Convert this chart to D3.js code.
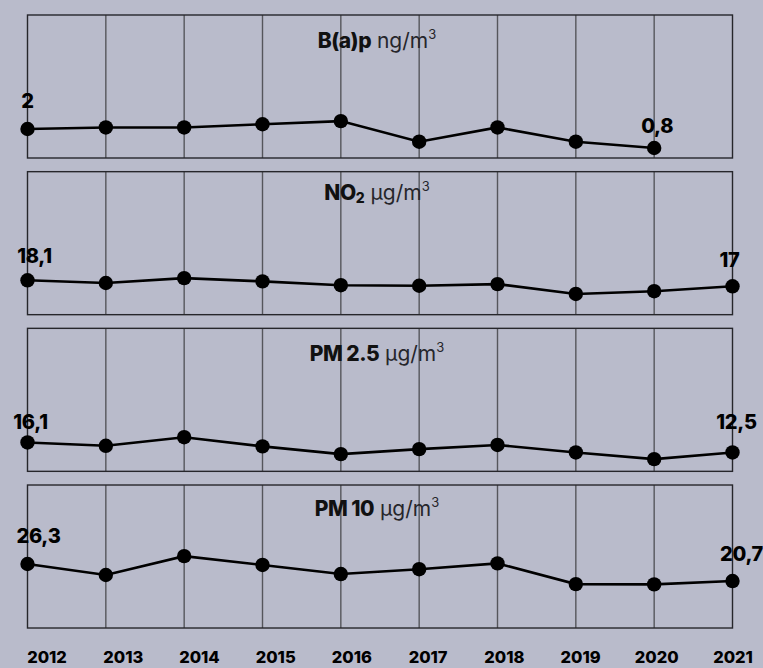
<!DOCTYPE html>
<html>
<head>
<meta charset="utf-8">
<script src="https://cdn.jsdelivr.net/npm/d3@7"></script>
<style>
  html, body { margin: 0; padding: 0; background: #b9bbcb; }
  svg { display: block; font-family: Inter, "DejaVu Sans", sans-serif; }
</style>
</head>
<body>
<div id="chart"></div>
<script>
"use strict";

/* global d3 */

// data
var years = [2012, 2013, 2014, 2015, 2016, 2017, 2018, 2019, 2020, 2021];
var yearLabels = ["2012", "2013", "2014", "2015", "2016", "2017", "2018", "2019", "2020", "2021"];

var panelNames = ["B(a)p", "NO", "PM 2.5", "PM 10"];
var panelSubs = ["", "2", "", ""];
var panelUnits = ["ng/m", "µg/m", "µg/m", "µg/m"];

var bapValues = [2.0, 2.1, 2.1, 2.3, 2.5, 1.2, 2.1, 1.2, 0.8, null];
var no2Values = [18.1, 17.6, 18.5, 17.9, 17.2, 17.1, 17.4, 15.6, 16.1, 17.0];
var pm25Values = [16.1, 14.9, 18.0, 14.7, 11.9, 13.7, 15.2, 12.5, 10.1, 12.5];
var pm10Values = [26.3, 22.7, 28.9, 26.0, 23.0, 24.6, 26.5, 19.7, 19.6, 20.7];

var series = [bapValues, no2Values, pm25Values, pm10Values];

// y domain of each panel (bottom, top)
var yDomains = [[0.17, 9.2], [11.8, 38], [5.7, 57.2], [5.25, 52.3]];

// which points carry a value label
var labelIndex = [[0, 8], [0, 9], [0, 9], [0, 9]];

// label placement (dx, dy from the dot)
var labelOffsets = [
  [[0, -21], [3, -15]],
  [[7, -17], [-3, -19]],
  [[3, -13], [4, -23]],
  [[11, -21], [9, -20]]
];

// title baseline below each panel top
var titleOffsets = [33, 28, 33, 31];

var width = 763;
var height = 668;
var left = 27.5;
var right = 732.5;
var firstTop = 15;
var panelStep = 156.67;
var panelHeight = 143;

var fmt = function (v) { return String(v).replace(".", ","); };

var svg = d3.select("#chart").append("svg")
  .attr("width", width)
  .attr("height", height);

var x = d3.scaleLinear().domain([years[0], years[years.length - 1]]).range([left, right]);
var xLabel = d3.scalePoint().domain(yearLabels).range([47, 733]);

series.forEach(function (values, i) {
  var top = firstTop + i * panelStep;
  var y = d3.scaleLinear().domain(yDomains[i]).range([top + panelHeight, top]);

  var g = svg.append("g");

  // vertical grid
  g.selectAll("line.grid")
    .data(years.slice(1, -1))
    .enter().append("line")
    .attr("class", "grid")
    .attr("x1", function (d) { return x(d); })
    .attr("x2", function (d) { return x(d); })
    .attr("y1", top)
    .attr("y2", top + panelHeight)
    .attr("stroke", "#55565c")
    .attr("stroke-width", 1.4);

  g.append("rect")
    .attr("x", left)
    .attr("y", top)
    .attr("width", right - left)
    .attr("height", panelHeight)
    .attr("fill", "none")
    .attr("stroke", "#26262b")
    .attr("stroke-width", 1.4);

  // title
  var title = g.append("text")
    .attr("x", 377)
    .attr("y", top + titleOffsets[i])
    .attr("text-anchor", "middle")
    .attr("font-size", 21)
    .attr("fill", "#111");
  title.append("tspan").attr("font-weight", 800).attr("letter-spacing", -0.5).text(panelNames[i]);
  if (panelSubs[i]) {
    title.append("tspan").attr("font-weight", 800).attr("font-size", 14).attr("dy", 3).text(panelSubs[i]);
    title.append("tspan").attr("dy", -3).text(" ");
  } else {
    title.append("tspan").text(" ");
  }
  title.append("tspan").attr("font-weight", 400).attr("fill", "#26262b").text(panelUnits[i]);
  title.append("tspan").attr("font-weight", 400).attr("fill", "#26262b").attr("font-size", 13).attr("dy", -9).text("3");

  var pts = values.map(function (v, j) { return { x: years[j], y: v }; })
    .filter(function (d) { return d.y !== null; });

  var line = d3.line()
    .x(function (d) { return x(d.x); })
    .y(function (d) { return y(d.y); });

  g.append("path")
    .datum(pts)
    .attr("d", line)
    .attr("fill", "none")
    .attr("stroke", "#000")
    .attr("stroke-width", 2.6);

  g.selectAll("circle")
    .data(pts)
    .enter().append("circle")
    .attr("cx", function (d) { return x(d.x); })
    .attr("cy", function (d) { return y(d.y); })
    .attr("r", 7.2)
    .attr("fill", "#000");

  labelIndex[i].forEach(function (j, k) {
    var off = labelOffsets[i][k];
    g.append("text")
      .attr("x", x(years[j]) + off[0])
      .attr("y", y(values[j]) + off[1])
      .attr("text-anchor", "middle")
      .attr("font-size", 20)
      .attr("font-weight", 800)
      .attr("letter-spacing", -0.3)
      .attr("fill", "#000")
      .text(fmt(values[j]));
  });
});

svg.append("g").selectAll("text")
  .data(yearLabels)
  .enter().append("text")
  .attr("x", function (d) { return xLabel(d); })
  .attr("y", 663)
  .attr("text-anchor", "middle")
  .attr("font-size", 16.5)
  .attr("font-weight", 800)
  .attr("fill", "#000")
  .text(function (d) { return d; });
</script>
</body>
</html>
